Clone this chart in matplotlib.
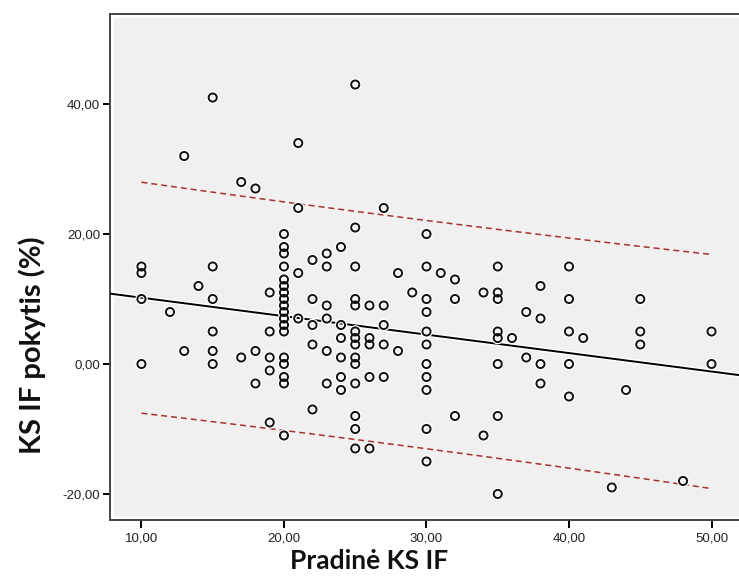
import numpy as np
import matplotlib
matplotlib.use("Agg")
import matplotlib.pyplot as plt
from matplotlib.patches import Rectangle
from matplotlib.ticker import FuncFormatter

# Pradine KS IF (x) vs KS IF pokytis (y)
pradine = [15, 13, 21, 17, 18, 21, 20, 20, 20, 20, 10, 10, 15, 22, 21, 20,
           14, 10, 15, 19, 20, 20, 20, 20, 20, 20, 20, 20, 22, 12, 21, 22, 15, 19, 22,
           13, 15, 10, 15, 17, 18, 19, 19, 18, 20, 20, 20, 20, 22, 19, 20,
           25, 27, 25, 30, 24, 23, 23, 25, 30, 28, 31, 32, 35,
           23, 25, 25, 26, 27, 29, 30, 30, 32, 34, 35, 35, 23, 24, 25, 27, 30, 35, 35, 36,
           23, 24, 25, 25, 26, 26, 27, 28, 30, 24, 25, 25, 30, 35, 23, 24, 24, 25, 26, 27,
           30, 30, 25, 25, 25, 26, 30, 30, 32, 34, 35, 35,
           40, 38, 40, 45, 37, 38, 40, 41, 45, 45, 50, 50, 37, 38, 40, 38, 40, 44, 43, 48]
pokytis = [41, 32, 34, 28, 27, 24, 20, 18, 17, 15, 15, 14, 15, 16, 14, 13,
           12, 10, 10, 11, 12, 11, 10, 9, 8, 7, 6, 5, 10, 8, 7, 6, 5, 5, 3,
           2, 2, 0, 0, 1, 2, 1, -1, -3, 1, 0, -2, -3, -7, -9, -11,
           43, 24, 21, 20, 18, 17, 15, 15, 15, 14, 14, 13, 15,
           9, 10, 9, 9, 9, 11, 10, 8, 10, 11, 11, 10, 7, 6, 5, 6, 5, 5, 4, 4,
           2, 4, 4, 3, 4, 3, 3, 2, 3, 1, 1, 0, 0, 0, -3, -2, -4, -3, -2, -2,
           -2, -4, -8, -10, -13, -13, -10, -15, -8, -11, -8, -20,
           15, 12, 10, 10, 8, 7, 5, 4, 5, 3, 5, 0, 1, 0, 0, -3, -5, -4, -19, -18]

x_ticks = [10, 20, 30, 40, 50]
y_ticks = [-20, 0, 20, 40]

# fit line and 95% prediction band as shown in the reference
fit_intercept = 13.04
fit_slope = -0.284
resid_sd = 8.85
t_val = 1.976

x = np.array(pradine, dtype=float)
y = np.array(pokytis, dtype=float)
n = len(x)
sxx = np.sum((x - x.mean())**2)
xs = np.linspace(10, 50, 100)
half = t_val * resid_sd * np.sqrt(1 + 1/n + (xs - x.mean())**2 / sxx)

fig = plt.figure(figsize=(7.39, 5.81), dpi=100)
ax = fig.add_axes([0.1484, 0.1045, 0.853, 0.8719])
ax.set_facecolor("white")
ax.add_patch(Rectangle((0.0068, 0.0071), 1.0, 0.9844, transform=ax.transAxes,
                       facecolor="#f0f0f0", edgecolor="none", zorder=0))

ax.set_xlim(7.77, 52.0)
ax.set_ylim(-24.05, 53.9)

xl = np.array([7.77, 52.0])
ax.plot(xl, fit_intercept + fit_slope * xl, color="white", lw=3.5, zorder=2)
ax.plot(xl, fit_intercept + fit_slope * xl, color="black", lw=1.4, zorder=3)
for sign in (1, -1):
    ax.plot(xs, fit_intercept + fit_slope * xs + sign * half, color="#a83232",
            lw=1.1, dashes=(3.9, 2.6), zorder=3)

ax.scatter(x, y, s=34, facecolor="none", edgecolor="white", linewidth=3.2, zorder=4)
ax.scatter(x, y, s=34, facecolor="none", edgecolor="#111111", linewidth=1.4, zorder=5)

ax.set_xticks(x_ticks)
ax.set_yticks(y_ticks)
fmt = FuncFormatter(lambda v, p: f"{v:.2f}".replace(".", ","))
ax.xaxis.set_major_formatter(fmt)
ax.yaxis.set_major_formatter(fmt)
ax.tick_params(axis="x", length=6, width=1.4, pad=3, labelsize=9.5, color="black")
ax.tick_params(axis="y", length=5, width=1.4, pad=2, labelsize=9.5, color="black")
for lab in ax.get_xticklabels() + ax.get_yticklabels():
    lab.set_family("Liberation Sans")
    lab.set_color("#222222")

ax.spines["right"].set_visible(False)
for sp in ("left", "top", "bottom"):
    ax.spines[sp].set_color("#444444")
    ax.spines[sp].set_linewidth(1.4)

fig.text(369 / 739, 1 - 561 / 581, "Pradinė KS IF", ha="center", va="center",
         fontsize=19, fontweight="bold", family="Lato", color="#111111")
fig.text(32 / 739, 1 - 345 / 581, "KS IF pokytis (%)", ha="center", va="center",
         rotation=90, fontsize=21, fontweight="bold", family="Lato", color="#111111")

fig.savefig("out.png", dpi=100)
